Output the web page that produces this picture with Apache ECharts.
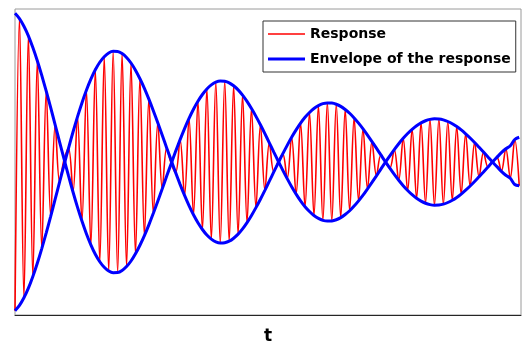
<!DOCTYPE html>
<html>
<head>
<meta charset="utf-8">
<script src="https://cdn.jsdelivr.net/npm/echarts@6/dist/echarts.min.js"></script>
<style>
html,body{margin:0;padding:0;background:#fff;}
#chart{width:522px;height:345px;}
</style>
</head>
<body>
<div id="chart"></div>
<script>
// Response extrema (one value per half carrier period, t = sample index)
const response = [
 -0.991, 0.956,-0.905, 0.841,-0.763, 0.675,-0.577, 0.472,-0.362, 0.248,
 -0.133, 0.019, 0.093,-0.200, 0.301,-0.394, 0.478,-0.552, 0.615,-0.665,
  0.702,-0.727, 0.738,-0.737, 0.723,-0.697, 0.660,-0.612, 0.555,-0.491,
  0.419,-0.342, 0.261,-0.178, 0.094,-0.011,-0.071, 0.149,-0.223, 0.291,
 -0.352, 0.405,-0.450, 0.487,-0.514, 0.532,-0.540, 0.538,-0.528, 0.508,
 -0.481, 0.446,-0.404, 0.356,-0.304, 0.248,-0.189, 0.128,-0.066, 0.005,
  0.054,-0.111, 0.165,-0.214, 0.259,-0.298, 0.330,-0.357, 0.376,-0.389,
  0.394,-0.393, 0.385,-0.371, 0.350,-0.325, 0.294,-0.259, 0.221,-0.179,
  0.136,-0.092, 0.047,-0.002,-0.041, 0.083,-0.122, 0.158,-0.190, 0.218,
 -0.242, 0.261,-0.275, 0.284,-0.288, 0.287,-0.281, 0.270,-0.255, 0.236,
 -0.214, 0.188,-0.160, 0.130,-0.098, 0.066,-0.033, 0.000, 0.031,-0.062,
  0.088,-0.108, 0.150,-0.158
];
// Upper envelope curve
const envUpper = [
  0.991, 0.956, 0.905, 0.841, 0.763, 0.675, 0.577, 0.472, 0.362, 0.248,
  0.133, 0.019,-0.093,-0.200,-0.301,-0.394,-0.478,-0.552,-0.615,-0.665,
 -0.702,-0.727,-0.738,-0.737,-0.723,-0.697,-0.660,-0.612,-0.555,-0.491,
 -0.419,-0.342,-0.261,-0.178,-0.094,-0.011, 0.071, 0.149, 0.223, 0.291,
  0.352, 0.405, 0.450, 0.487, 0.514, 0.532, 0.540, 0.538, 0.528, 0.508,
  0.481, 0.446, 0.404, 0.356, 0.304, 0.248, 0.189, 0.128, 0.066, 0.005,
 -0.054,-0.111,-0.165,-0.214,-0.259,-0.298,-0.330,-0.357,-0.376,-0.389,
 -0.394,-0.393,-0.385,-0.371,-0.350,-0.325,-0.294,-0.259,-0.221,-0.179,
 -0.136,-0.092,-0.047,-0.002, 0.041, 0.083, 0.122, 0.158, 0.190, 0.218,
  0.242, 0.261, 0.275, 0.284, 0.288, 0.287, 0.281, 0.270, 0.255, 0.236,
  0.214, 0.188, 0.160, 0.130, 0.098, 0.066, 0.033, 0.000,-0.031,-0.062,
 -0.088,-0.108,-0.150,-0.158
];
// Lower envelope curve
const envLower = [
 -0.991,-0.956,-0.905,-0.841,-0.763,-0.675,-0.577,-0.472,-0.362,-0.248,
 -0.133,-0.019, 0.093, 0.200, 0.301, 0.394, 0.478, 0.552, 0.615, 0.665,
  0.702, 0.727, 0.738, 0.737, 0.723, 0.697, 0.660, 0.612, 0.555, 0.491,
  0.419, 0.342, 0.261, 0.178, 0.094, 0.011,-0.071,-0.149,-0.223,-0.291,
 -0.352,-0.405,-0.450,-0.487,-0.514,-0.532,-0.540,-0.538,-0.528,-0.508,
 -0.481,-0.446,-0.404,-0.356,-0.304,-0.248,-0.189,-0.128,-0.066,-0.005,
  0.054, 0.111, 0.165, 0.214, 0.259, 0.298, 0.330, 0.357, 0.376, 0.389,
  0.394, 0.393, 0.385, 0.371, 0.350, 0.325, 0.294, 0.259, 0.221, 0.179,
  0.136, 0.092, 0.047, 0.002,-0.041,-0.083,-0.122,-0.158,-0.190,-0.218,
 -0.242,-0.261,-0.275,-0.284,-0.288,-0.287,-0.281,-0.270,-0.255,-0.236,
 -0.214,-0.188,-0.160,-0.130,-0.098,-0.066,-0.033, 0.000, 0.031, 0.062,
  0.088, 0.108, 0.150, 0.165
];
const seriesNames = ['Response', 'Envelope of the response'];
const xAxisName = 't';

const toPairs = arr => arr.map((v, i) => [i, v]);

const chart = echarts.init(document.getElementById('chart'), null, {renderer: 'canvas'});
const font = 'DejaVu Sans';
chart.setOption({
  animation: false,
  backgroundColor: '#fff',
  grid: {left: 15, right: 1, top: 9, bottom: 30, show: true, borderColor: '#9a9a9a', borderWidth: 1,
         backgroundColor: 'transparent', containLabel: false, outerBoundsMode: 'none'},
  xAxis: {
    type: 'value', min: 0, max: 113.4,
    name: xAxisName, nameLocation: 'middle', nameGap: 13,
    nameTextStyle: {fontFamily: font, fontWeight: 'bold', fontSize: 17, color: '#000'},
    axisLine: {show: true, onZero: false, lineStyle: {color: '#262626', width: 1}},
    axisTick: {show: false}, axisLabel: {show: false}, splitLine: {show: false}
  },
  yAxis: {
    type: 'value', min: -1.02, max: 1.02,
    axisLine: {show: false}, axisTick: {show: false}, axisLabel: {show: false}, splitLine: {show: false}
  },
  legend: {
    orient: 'vertical', left: 263, top: 21,
    padding: [6, 5, 6, 5],
    itemWidth: 37, itemHeight: 14, itemGap: 11,
    symbolKeepAspect: true,
    backgroundColor: '#fff', borderColor: '#333', borderWidth: 1,
    textStyle: {fontFamily: font, fontWeight: 'bold', fontSize: 14, color: '#000'},
    data: [
      {name: seriesNames[0], icon: 'path://M0,0H37V1.4H0Z'},
      {name: seriesNames[1], icon: 'path://M0,0H37V2.8H0Z'}
    ]
  },
  series: [
    {name: seriesNames[0], type: 'line', data: toPairs(response), symbol: 'none', smooth: 0.36,
     lineStyle: {color: '#ff0000', width: 1.6}, itemStyle: {color: '#ff0000'}, z: 2},
    {name: seriesNames[1], type: 'line', data: toPairs(envUpper), symbol: 'none', smooth: 0.3,
     lineStyle: {color: '#0000ff', width: 3}, itemStyle: {color: '#0000ff'}, z: 3},
    {name: seriesNames[1], type: 'line', data: toPairs(envLower), symbol: 'none', smooth: 0.3,
     lineStyle: {color: '#0000ff', width: 3}, itemStyle: {color: '#0000ff'}, z: 3}
  ]
});
</script>
</body>
</html>
